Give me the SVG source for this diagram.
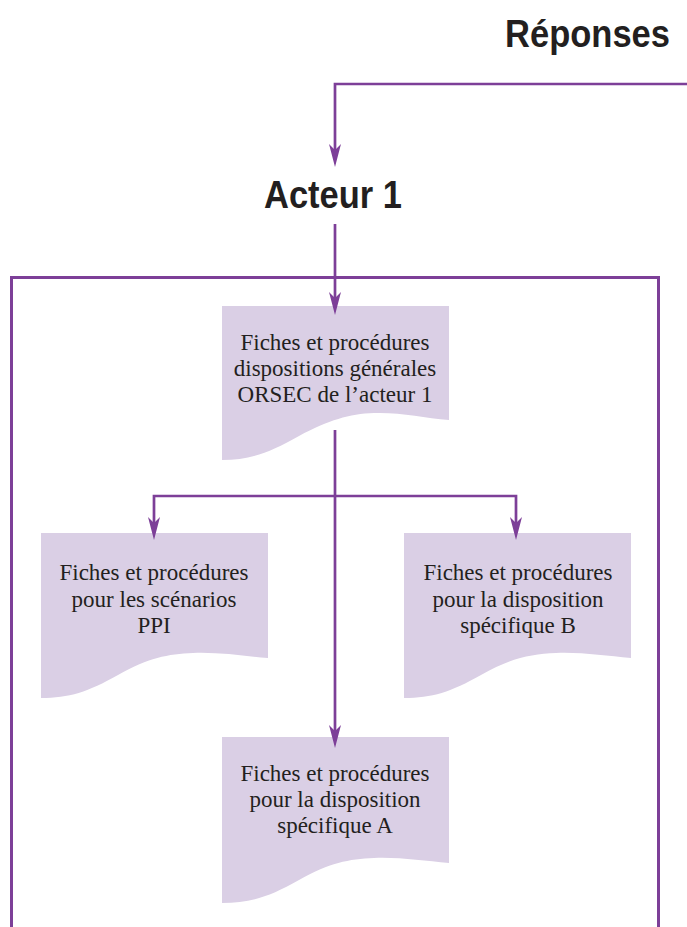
<svg xmlns="http://www.w3.org/2000/svg" width="687" height="927" viewBox="0 0 687 927">
<style>
.h{font-family:"Liberation Sans","DejaVu Sans",sans-serif;font-weight:bold;font-size:39px;fill:#231f20}
.t{font-family:"Liberation Serif","DejaVu Serif",serif;font-size:23px;fill:#231f20;text-anchor:middle}
.box{fill:#dacfe5}
.c{fill:none;stroke:#7d3f98;stroke-width:2.7}
.frame{fill:none;stroke:#7d3f98;stroke-width:3}
</style>
<defs>
<marker id="arr" viewBox="-16 -7 25 14" refX="0" refY="0" markerWidth="25" markerHeight="14" markerUnits="userSpaceOnUse" orient="auto">
<path d="M8,0 L-15,-6 L-9,0 L-15,6 Z" fill="#7d3f98"/>
</marker>
</defs>
<rect width="687" height="927" fill="#ffffff"/>
<g id="title">
<text class="h" x="505" y="47" textLength="165" lengthAdjust="spacingAndGlyphs">Réponses</text>
</g>
<g id="acteur1">
<text class="h" x="264" y="208" textLength="138" lengthAdjust="spacingAndGlyphs">Acteur 1</text>
</g>
<g id="frame">
<path class="frame" d="M11.5,935 V277.5 H658.5 V935"/>
</g>
<g id="box-general">
<path class="box" d="M222,306 H449 V420 C424,418 400,412 374,413 C349,414 329,420 299,436 C269,453 250,460 222,460 Z"/>
<text class="t" x="335" y="350">Fiches et procédures</text>
<text class="t" x="335" y="376">dispositions générales</text>
<text class="t" x="335" y="402">ORSEC de l’acteur 1</text>
</g>
<g id="box-ppi">
<path class="box" d="M41,533 H268 V658 C243,656 219,652 193,653 C168,654 148,658 118,675 C88,692 69,698 41,698 Z"/>
<text class="t" x="154" y="580">Fiches et procédures</text>
<text class="t" x="154" y="607">pour les scénarios</text>
<text class="t" x="154" y="633">PPI</text>
</g>
<g id="box-b">
<path class="box" d="M404,533 H631 V658 C606,656 582,652 556,653 C531,654 511,658 481,675 C451,692 432,698 404,698 Z"/>
<text class="t" x="518" y="580">Fiches et procédures</text>
<text class="t" x="518" y="607">pour la disposition</text>
<text class="t" x="518" y="633">spécifique B</text>
</g>
<g id="box-a">
<path class="box" d="M222,737 H449 V863 C424,861 400,857 374,858 C349,859 329,863 299,880 C269,897 250,903 222,903 Z"/>
<text class="t" x="335" y="781">Fiches et procédures</text>
<text class="t" x="335" y="807">pour la disposition</text>
<text class="t" x="335" y="833">spécifique A</text>
</g>
<g id="connectors">
<path class="c" d="M687,84 H335 V159" marker-end="url(#arr)"/>
<path class="c" d="M335,224 V307" marker-end="url(#arr)"/>
<path class="c" d="M335,430 V740" marker-end="url(#arr)"/>
<path class="c" d="M335,496 H154 V532" marker-end="url(#arr)"/>
<path class="c" d="M335,496 H516 V532" marker-end="url(#arr)"/>
</g>
</svg>
